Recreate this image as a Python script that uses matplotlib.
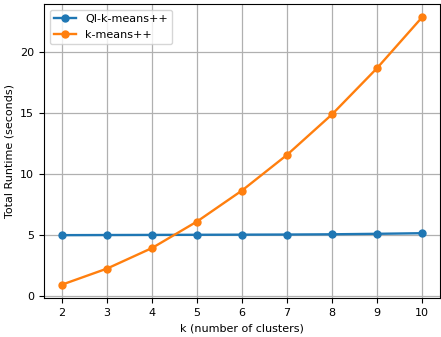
import matplotlib
matplotlib.use("Agg")
import matplotlib.pyplot as plt

k_values = [2, 3, 4, 5, 6, 7, 8, 9, 10]
qi_runtime = [4.97, 4.98, 4.99, 5.00, 5.01, 5.02, 5.04, 5.08, 5.13]
km_runtime = [0.90, 2.22, 3.91, 6.09, 8.64, 11.57, 14.90, 18.70, 22.88]

fig = plt.figure(figsize=(4.41, 3.37), dpi=100)
ax = fig.add_axes([44/441, 1 - 298/337, 396/441, 294/337])

ax.plot(k_values, qi_runtime, marker='o', markersize=5, linewidth=1.7, label='QI-k-means++')
ax.plot(k_values, km_runtime, marker='o', markersize=5, linewidth=1.7, label='k-means++')

ax.set_xlabel("k (number of clusters)", fontsize=8)
ax.set_ylabel("Total Runtime (seconds)", fontsize=8)
ax.set_xticks(k_values)
ax.tick_params(labelsize=8)
ax.grid(True, color='#b0b0b0', linewidth=0.9)
ax.legend(loc='upper left', fontsize=8)

fig.savefig("out.png", dpi=100)
